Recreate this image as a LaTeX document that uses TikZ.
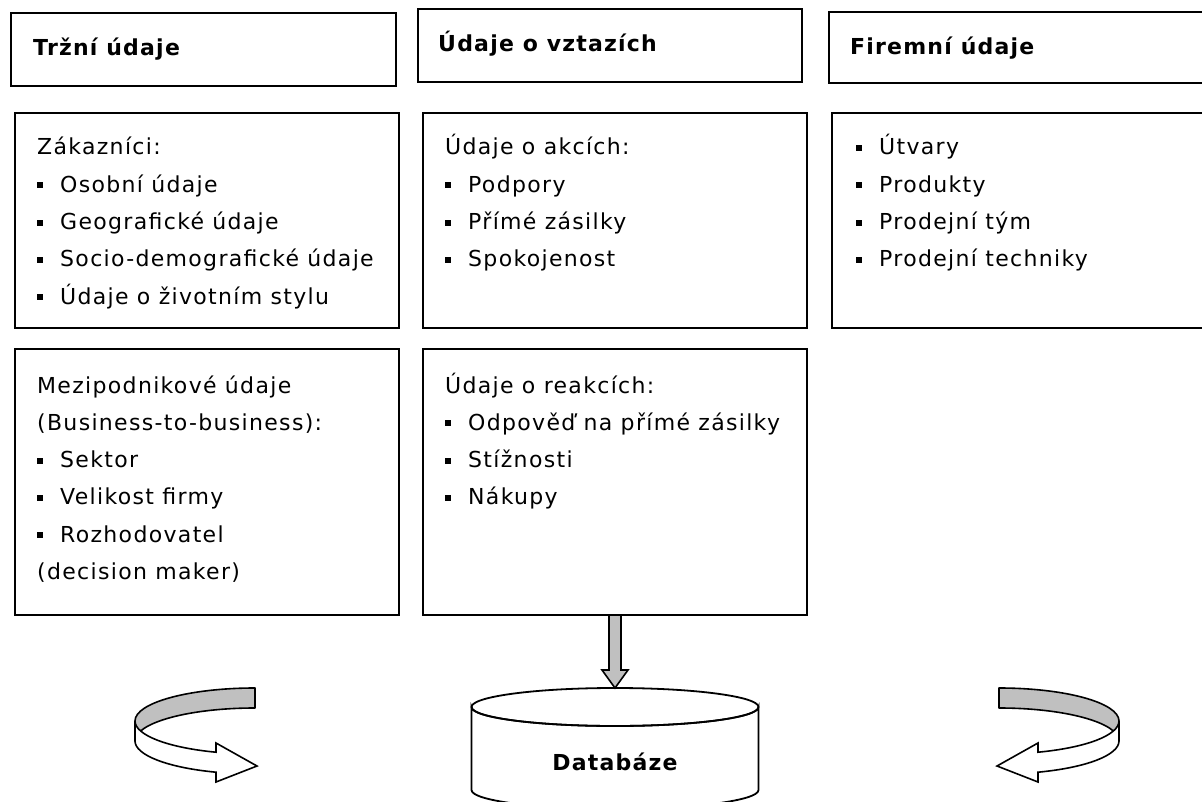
\documentclass[tikz,border=0pt]{standalone}
\usepackage{fontspec}
\newfontfamily\bodyfont{DejaVu Sans}[LetterSpace=6]
\newfontfamily\headfont{DejaVu Sans Bold}[LetterSpace=5.5]
\definecolor{ribbongray}{RGB}{192,192,192}
% square bullet followed by the item text
\newcommand\itm[1]{\makebox[23pt][l]{\raisebox{4pt}{\rule{6pt}{6pt}}}#1}
% a ribbon that curls round and ends in an arrow head
\newcommand\curlarrow{%
  \draw[line width=1.6pt, fill=ribbongray, line join=round]
    (255,-688) arc[start angle=90, end angle=180, x radius=120, y radius=33]
    -- (135,-741) arc[start angle=180, end angle=90, x radius=120, y radius=33]
    -- cycle;
  \draw[line width=1.6pt, fill=white, line join=miter]
    (135,-721) arc[start angle=180, end angle=251.03, x radius=120, y radius=33]
    -- (216,-743) -- (257,-766) -- (216,-782) -- (216,-772.2)
    arc[start angle=251.03, end angle=180, x radius=120, y radius=33]
    -- cycle;
}
\begin{document}
\begin{tikzpicture}[x=1pt, y=1pt,
  panel/.style={draw, line width=1.8pt, rectangle, inner sep=0pt, outer sep=0pt, anchor=north west},
  headtext/.style={anchor=base west, inner sep=0pt, font=\headfont\fontsize{22}{26}\selectfont},
  bodytext/.style={anchor=base west, inner sep=0pt, font=\bodyfont\fontsize{22}{37.3}\selectfont},
  ]
\useasboundingbox (0,0) rectangle (1202,-802);
\clip (0,0) rectangle (1202,-802);

% column headings
\node[panel, minimum width=385pt, minimum height=73pt] (h1) at (11,-13) {};
\node[panel, minimum width=384pt, minimum height=73pt] (h2) at (418,-9) {};
\node[panel, minimum width=385pt, minimum height=71pt] (h3) at (829,-12) {};
\node[headtext] (h1t) at ([shift={(22pt,-43pt)}]h1.north west) {Tržní údaje};
\node[headtext] (h2t) at ([shift={(20pt,-43pt)}]h2.north west) {Údaje o vztazích};
\node[headtext] (h3t) at ([shift={(21pt,-43pt)}]h3.north west) {Firemní údaje};

% content panels
\node[panel, minimum width=384pt, minimum height=215pt] (a1) at (15,-113) {};
\node[panel, minimum width=384pt, minimum height=215pt] (b1) at (423,-113) {};
\node[panel, minimum width=385pt, minimum height=215pt] (c1) at (832,-113) {};
\node[panel, minimum width=384pt, minimum height=266pt] (a2) at (15,-349) {};
\node[panel, minimum width=384pt, minimum height=266pt] (b2) at (423,-349) {};

\node[bodytext] (a1t) at ([shift={(22pt,-42pt)}]a1.north west) {\parbox[t]{360pt}{\raggedright
  Zákazníci:\\
  \itm{Osobní údaje}\\
  \itm{Geografické údaje}\\
  \itm{Socio-demografické údaje}\\
  \itm{Údaje o životním stylu}}};
\node[bodytext] (b1t) at ([shift={(22pt,-42pt)}]b1.north west) {\parbox[t]{360pt}{\raggedright
  Údaje o akcích:\\
  \itm{Podpory}\\
  \itm{Přímé zásilky}\\
  \itm{Spokojenost}}};
\node[bodytext] (c1t) at ([shift={(24pt,-42pt)}]c1.north west) {\parbox[t]{340pt}{\raggedright
  \itm{Útvary}\\
  \itm{Produkty}\\
  \itm{Prodejní tým}\\
  \itm{Prodejní techniky}}};
\node[bodytext] (a2t) at ([shift={(22pt,-44pt)}]a2.north west) {\parbox[t]{360pt}{\raggedright
  Mezipodnikové údaje\\
  (Business-to-business):\\
  \itm{Sektor}\\
  \itm{Velikost firmy}\\
  \itm{Rozhodovatel}\\
  (decision maker)}};
\node[bodytext] (b2t) at ([shift={(22pt,-44pt)}]b2.north west) {\parbox[t]{360pt}{\raggedright
  Údaje o reakcích:\\
  \itm{Odpověď na přímé zásilky}\\
  \itm{Stížnosti}\\
  \itm{Nákupy}}};

% database cylinder
\coordinate (dbtop) at (615,-688);
\draw[line width=1.8pt, fill=white]
  (471.5,-707) arc[start angle=180, end angle=360, x radius=143.5, y radius=19]
  -- (758.5,-790) arc[start angle=0, end angle=-180, x radius=143.5, y radius=19]
  -- cycle;
\draw[line width=1.8pt] (615,-707) ellipse[x radius=143.5, y radius=19];
\node[headtext, anchor=base] (db) at (615,-770) {Databáze};

% block arrow into the database
\draw[line width=1.6pt, fill=ribbongray, line join=miter]
  ([xshift=-6pt]b2.south) -- ([xshift=-6pt, yshift=18pt]dbtop)
  -- ([xshift=-13pt, yshift=18pt]dbtop) -- (dbtop)
  -- ([xshift=13pt, yshift=18pt]dbtop) -- ([xshift=6pt, yshift=18pt]dbtop)
  -- ([xshift=6pt]b2.south) -- cycle;

% curled arrows on both sides
\curlarrow
\begin{scope}[shift={(1254,0)}, xscale=-1]
  \curlarrow
\end{scope}
\end{tikzpicture}
\end{document}
